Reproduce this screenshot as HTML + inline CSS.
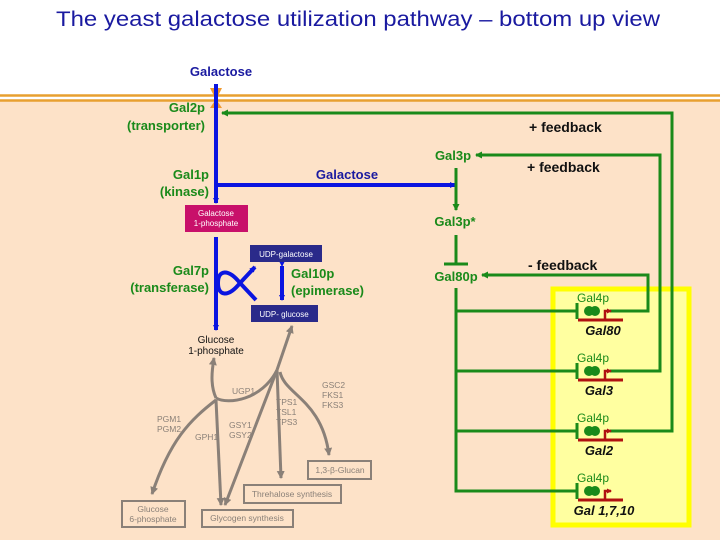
<!DOCTYPE html>
<html><head><meta charset="utf-8"><style>
html,body{margin:0;padding:0;background:#fff;width:720px;height:540px;overflow:hidden}
svg{display:block}
text{font-family:"Liberation Sans",Arial,sans-serif}
</style></head><body>
<svg width="720" height="540" viewBox="0 0 720 540" xmlns="http://www.w3.org/2000/svg">
<defs>
<marker id="ab" markerWidth="6" markerHeight="6" refX="5" refY="3" orient="auto" markerUnits="userSpaceOnUse"><path d="M0,0 L6,3 L0,6z" fill="#0a14e0"/></marker>
<marker id="ag" markerWidth="7" markerHeight="7" refX="6" refY="3.5" orient="auto" markerUnits="userSpaceOnUse"><path d="M0,0 L7,3.5 L0,7z" fill="#1a8a1a"/></marker>
<marker id="agr" markerWidth="8" markerHeight="8" refX="7" refY="4" orient="auto" markerUnits="userSpaceOnUse"><path d="M0,0 L8,4 L0,8z" fill="#8a8078"/></marker>
<marker id="ar" markerWidth="5" markerHeight="5" refX="4" refY="2.5" orient="auto" markerUnits="userSpaceOnUse"><path d="M0,0 L5,2.5 L0,5z" fill="#b01010"/></marker>
</defs>
<rect x="0" y="0" width="720" height="540" fill="#fff"/>
<rect x="0" y="101" width="720" height="439" fill="#fde2c8"/>
<line x1="0" y1="95.5" x2="720" y2="95.5" stroke="#e8a030" stroke-width="2.5"/>
<line x1="0" y1="100.5" x2="720" y2="100.5" stroke="#e8a030" stroke-width="2.5"/>
<text x="358" y="26" font-size="21" fill="#1a1aa0" text-anchor="middle" textLength="604" lengthAdjust="spacingAndGlyphs">The yeast galactose utilization pathway – bottom up view</text>
<text x="221" y="76" font-size="13" font-weight="bold" fill="#1a1aa0" text-anchor="middle">Galactose</text>
<path d="M210,88 L214,96 L214,102 L210,108 L222,108 L218,102 L218,96 L222,88z" fill="#f09a30"/>
<rect x="553" y="289" width="136" height="236" fill="#ffffa0" stroke="#ffff00" stroke-width="5"/>
<line x1="216" y1="84" x2="216" y2="203" stroke="#0a14e0" stroke-width="4" marker-end="url(#ab)"/>
<line x1="216" y1="185" x2="455" y2="185" stroke="#0a14e0" stroke-width="4" marker-end="url(#ab)"/>
<line x1="216" y1="237" x2="216" y2="330" stroke="#0a14e0" stroke-width="4" marker-end="url(#ab)"/>
<path d="M256,300 L240,283 C228,268 218,270 218,283 C218,296 228,298 240,283 L255,267" fill="none" stroke="#0a14e0" stroke-width="4" marker-end="url(#ab)"/>
<line x1="282" y1="266" x2="282" y2="300" stroke="#0a14e0" stroke-width="4" marker-start="url(#ab)" marker-end="url(#ab)"/>
<rect x="185" y="205" width="63" height="27" fill="#c8106a"/>
<text x="216" y="216" font-size="8" fill="#fff" text-anchor="middle">Galactose</text>
<text x="216" y="226" font-size="8" fill="#fff" text-anchor="middle">1-phosphate</text>
<rect x="250" y="245" width="72" height="17" fill="#2a2a8a"/>
<text x="286" y="257" font-size="8" fill="#fff" text-anchor="middle">UDP-galactose</text>
<rect x="251" y="305" width="67" height="17" fill="#2a2a8a"/>
<text x="284" y="317" font-size="8" fill="#fff" text-anchor="middle">UDP- glucose</text>
<g font-size="13" font-weight="bold" fill="#1a8a1a">
<text x="205" y="112" text-anchor="end">Gal2p</text>
<text x="205" y="130" text-anchor="end">(transporter)</text>
<text x="209" y="179" text-anchor="end">Gal1p</text>
<text x="209" y="196" text-anchor="end">(kinase)</text>
<text x="209" y="275" text-anchor="end">Gal7p</text>
<text x="209" y="292" text-anchor="end">(transferase)</text>
<text x="291" y="278">Gal10p</text>
<text x="291" y="295">(epimerase)</text>
<text x="453" y="160" text-anchor="middle">Gal3p</text>
<text x="455" y="226" text-anchor="middle">Gal3p*</text>
<text x="456" y="281" text-anchor="middle">Gal80p</text>
</g>
<text x="347" y="179" font-size="13" font-weight="bold" fill="#1a1aa0" text-anchor="middle">Galactose</text>
<g font-size="14" font-weight="bold" fill="#111">
<text x="529" y="132">+ feedback</text>
<text x="527" y="172">+ feedback</text>
<text x="528" y="270">- feedback</text>
</g>
<g stroke="#1a8a1a" stroke-width="3" fill="none">
<line x1="456" y1="168" x2="456" y2="210" marker-end="url(#ag)"/>
<line x1="456" y1="235" x2="456" y2="264"/>
<line x1="444" y1="264" x2="468" y2="264"/>
<polyline points="456,288 456,491 577,491"/>
<line x1="456" y1="311" x2="577" y2="311"/>
<line x1="456" y1="371" x2="577" y2="371"/>
<line x1="456" y1="431" x2="577" y2="431"/>
<line x1="577" y1="303" x2="577" y2="319"/><line x1="577" y1="363" x2="577" y2="379"/><line x1="577" y1="423" x2="577" y2="439"/><line x1="577" y1="483" x2="577" y2="499"/>
<polyline points="610,311 648,311 648,275 482,275" marker-end="url(#ag)"/>
<polyline points="610,371 660,371 660,155 476,155" marker-end="url(#ag)"/>
<polyline points="610,431 672,431 672,113 222,113" marker-end="url(#ag)"/>
</g>
<g id="g">
<circle cx="589" cy="311" r="5" fill="#1a8a1a"/><circle cx="595" cy="311" r="5" fill="#1a8a1a"/>
<line x1="578" y1="320" x2="623" y2="320" stroke="#b01010" stroke-width="3"/>
<polyline points="605,319 605,311 611,311" fill="none" stroke="#b01010" stroke-width="2.5" marker-end="url(#ar)"/>
</g>
<use href="#g" y="60"/><use href="#g" y="120"/><use href="#g" y="180"/>
<g font-size="12" fill="#1a8a1a" text-anchor="middle">
<text x="593" y="302">Gal4p</text><text x="593" y="362">Gal4p</text><text x="593" y="422">Gal4p</text><text x="593" y="482">Gal4p</text>
</g>
<g font-size="13" font-weight="bold" font-style="italic" fill="#111" text-anchor="middle">
<text x="603" y="335">Gal80</text><text x="599" y="395">Gal3</text><text x="599" y="455">Gal2</text><text x="604" y="515">Gal 1,7,10</text>
</g>
<text x="216" y="343" font-size="10" fill="#111" text-anchor="middle">Glucose</text>
<text x="216" y="354" font-size="10" fill="#111" text-anchor="middle">1-phosphate</text>
<g stroke="#8a8078" stroke-width="3" fill="none">
<path d="M216,398 C210,385 212,370 214,358" marker-end="url(#agr)"/>
<path d="M216,398 C228,405 262,400 277,370"/>
<path d="M277,370 L292,326" marker-end="url(#agr)"/>
<path d="M216,400 C190,420 170,440 152,494" marker-end="url(#agr)"/>
<path d="M216,400 L221,505" marker-end="url(#agr)"/>
<path d="M277,370 L225,505" marker-end="url(#agr)"/>
<path d="M277,370 L281,478" marker-end="url(#agr)"/>
<path d="M280,372 C285,395 322,400 329,455" marker-end="url(#agr)"/>
</g>
<g fill="#fde2c8" stroke="#8a8078" stroke-width="2">
<rect x="122" y="501" width="63" height="26"/>
<rect x="202" y="510" width="91" height="17"/>
<rect x="244" y="485" width="97" height="18"/>
<rect x="308" y="461" width="63" height="18"/>
</g>
<g font-size="8.5" fill="#8a8078">
<text x="153" y="512" text-anchor="middle">Glucose</text>
<text x="153" y="522" text-anchor="middle">6-phosphate</text>
<text x="247" y="521" text-anchor="middle">Glycogen synthesis</text>
<text x="292" y="497" text-anchor="middle">Threhalose synthesis</text>
<text x="340" y="473" text-anchor="middle">1,3-β-Glucan</text>
<text x="232" y="394">UGP1</text>
<text x="157" y="422">PGM1</text><text x="157" y="432">PGM2</text>
<text x="195" y="440">GPH1</text>
<text x="229" y="428">GSY1</text><text x="229" y="438">GSY2</text>
<text x="276" y="405">TPS1</text><text x="276" y="415">TSL1</text><text x="276" y="425">TPS3</text>
<text x="322" y="388">GSC2</text><text x="322" y="398">FKS1</text><text x="322" y="408">FKS3</text>
</g>
</svg>
</body></html>
